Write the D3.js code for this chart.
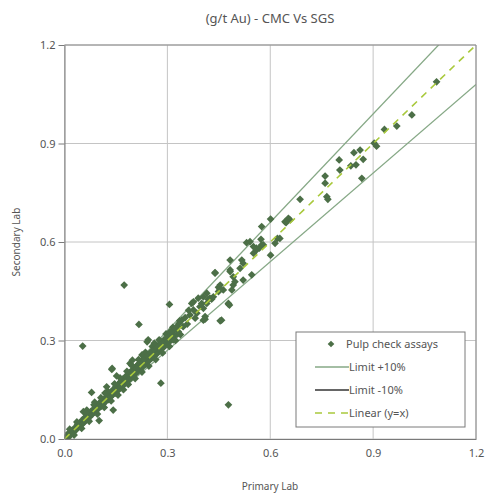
<!DOCTYPE html>
<html lang="en">
<head>
    <meta charset="UTF-8">
    <title>CMC Vs SGS</title>
    <script src="https://cdn.jsdelivr.net/npm/d3@7/dist/d3.min.js"></script>
    <style>
        body { margin: 0; background: #fff; }
        text { font-family: "Noto Sans", "DejaVu Sans", sans-serif; fill: #555; }
        .grid line { stroke: #c4c4c4; }
        .axis path, .axis line { stroke: #7a7a7a; }
    </style>
</head>
<body>
    <svg width=485 height=493></svg>
    <script>
        var title = '(g/t Au) - CMC Vs SGS',
            xLabel = 'Primary Lab',
            yLabel = 'Secondary Lab',
            ticks = [0, 0.3, 0.6, 0.9, 1.2],
            limits = [1.1, 0.9],
            legendItems = ['Pulp check assays', 'Limit +10%', 'Limit -10%', 'Linear (y=x)'];

        // primary, secondary (g/t Au)
        var bandPts = [
            [0.005,0.008],[0.010,0.004],[0.012,0.018],[0.018,0.012],[0.022,0.026],[0.025,0.020],
            [0.030,0.034],[0.034,0.028],[0.038,0.045],[0.040,0.036],[0.045,0.050],[0.048,0.042],
            [0.052,0.058],[0.055,0.048],[0.058,0.064],[0.060,0.055],[0.065,0.070],[0.068,0.060],
            [0.070,0.078],[0.074,0.068],[0.078,0.085],[0.080,0.074],[0.084,0.090],[0.088,0.082],
            [0.090,0.098],[0.094,0.088],[0.098,0.105],[0.100,0.094],[0.104,0.112],[0.108,0.100],
            [0.110,0.118],[0.114,0.108],[0.118,0.124],[0.120,0.114],[0.124,0.130],[0.128,0.120],
            [0.130,0.140],[0.134,0.128],[0.138,0.146],[0.140,0.134],[0.144,0.152],[0.148,0.140],
            [0.150,0.160],[0.154,0.148],[0.158,0.168],[0.160,0.152],[0.164,0.175],[0.168,0.160],
            [0.170,0.182],[0.174,0.168],[0.178,0.190],[0.180,0.174],[0.184,0.196],[0.188,0.180],
            [0.190,0.202],[0.194,0.186],[0.198,0.210],[0.200,0.192],[0.204,0.216],[0.208,0.200],
            [0.210,0.222],[0.214,0.206],[0.218,0.230],[0.220,0.212],[0.224,0.236],[0.228,0.220],
            [0.230,0.244],[0.234,0.226],[0.238,0.250],[0.240,0.232],[0.244,0.256],[0.248,0.240],
            [0.250,0.262],[0.254,0.246],[0.258,0.268],[0.260,0.252],[0.264,0.274],[0.268,0.258],
            [0.270,0.282],[0.274,0.266],[0.278,0.290],[0.280,0.270],[0.284,0.296],[0.288,0.278],
            [0.290,0.302],[0.294,0.286],[0.298,0.308],[0.300,0.292],[0.304,0.316],[0.308,0.298],
            [0.310,0.322],[0.314,0.306],[0.318,0.330],[0.320,0.312],[0.326,0.338],[0.330,0.320],
            [0.191,0.230],[0.123,0.159],[0.167,0.180],[0.211,0.215],[0.065,0.088],[0.055,0.083],
            [0.101,0.056],[0.142,0.088],[0.079,0.142],[0.138,0.212],[0.139,0.215],
            [0.015,0.030],[0.028,0.012],[0.036,0.052],[0.050,0.032],[0.062,0.080],[0.072,0.054],
            [0.086,0.104],[0.096,0.076],[0.106,0.126],[0.116,0.096],[0.126,0.146],[0.136,0.116],
            [0.146,0.168],[0.156,0.134],[0.162,0.186],[0.172,0.150],[0.182,0.206],[0.186,0.166],
            [0.196,0.224],[0.206,0.184],[0.216,0.242],[0.226,0.204],[0.236,0.264],[0.246,0.222],
            [0.256,0.282],[0.266,0.242],[0.276,0.302],[0.286,0.262],[0.296,0.320],[0.306,0.282],
            [0.316,0.340],[0.324,0.300],[0.334,0.352],[0.338,0.318],[0.152,0.192],[0.198,0.240],
            [0.226,0.256],[0.262,0.292],[0.118,0.140],[0.088,0.112]
        ];
        var midPts = [
            [0.259,0.271],[0.249,0.261],[0.240,0.251],[0.230,0.241],[0.220,0.231],[0.244,0.302],
            [0.241,0.296],[0.342,0.362],[0.346,0.342],[0.327,0.342],[0.317,0.332],[0.332,0.327],
            [0.308,0.327],[0.303,0.312],[0.317,0.302],[0.298,0.296],[0.288,0.291],[0.279,0.286],
            [0.269,0.279],[0.371,0.413],[0.376,0.393],[0.386,0.383],[0.366,0.378],[0.381,0.368],
            [0.390,0.429],[0.400,0.413],[0.395,0.403],[0.405,0.398],[0.410,0.373],[0.405,0.362],
            [0.415,0.444],[0.419,0.426],[0.429,0.426],[0.439,0.505],[0.454,0.469],[0.463,0.454],
            [0.449,0.449],[0.405,0.433],[0.424,0.429],[0.434,0.433],[0.415,0.413],[0.478,0.413],
            [0.449,0.462],[0.453,0.454],[0.488,0.454],[0.492,0.469],[0.521,0.484],[0.439,0.507],
            [0.483,0.510],[0.492,0.494],[0.497,0.479],[0.546,0.500],[0.483,0.545],[0.517,0.545],
            [0.521,0.535],[0.512,0.520],[0.483,0.515],[0.551,0.566],[0.560,0.576],[0.531,0.598],
            [0.541,0.601],[0.573,0.608],[0.575,0.591],[0.568,0.581],[0.621,0.611],[0.614,0.596],
            [0.601,0.560],[0.551,0.586],[0.560,0.581],[0.580,0.591],[0.628,0.611],[0.601,0.670],
            [0.575,0.647],[0.643,0.662],[0.658,0.667],[0.653,0.672],[0.646,0.659],[0.410,0.365],
            [0.376,0.418],[0.458,0.362],[0.481,0.408],
            [0.352,0.370],[0.358,0.350],[0.362,0.392],[0.336,0.360]
        ];
        var highPts = [
            [1.085,1.088],[1.013,0.987],[0.969,0.953],[0.933,0.943],[0.910,0.892],[0.903,0.901],
            [0.862,0.880],[0.844,0.872],[0.871,0.852],[0.850,0.835],[0.835,0.832],[0.801,0.850],
            [0.803,0.819],[0.867,0.794],[0.760,0.801],[0.760,0.779],[0.765,0.738],[0.768,0.730],
            [0.687,0.730]
        ];
        var outliers = [
            [0.053,0.283],[0.174,0.469],[0.217,0.349],[0.306,0.410],[0.281,0.170],[0.478,0.104],
            [0.454,0.360],[0.478,0.411]
        ];

        var svg = d3.select('svg'),
            margin = {top: 45, right: 9, bottom: 54, left: 64.5},
            chartWidth = 485 - margin.left - margin.right,
            chartHeight = 493 - margin.top - margin.bottom,
            xScale = d3.scaleLinear().domain([0, 1.2]).range([0, chartWidth]),
            yScale = d3.scaleLinear().domain([0, 1.2]).range([chartHeight, 0]),
            chartG = svg.append('g')
                        .attr('transform', 'translate(' + [margin.left, margin.top] + ')');

        var markColor = '#4c6f47',
            limitColor = '#86a886',
            lineColor = '#a9c93c';

        // grid
        chartG.append('g').classed('grid', true)
            .selectAll('line.v').data(ticks).enter().append('line')
            .attr('x1', xScale).attr('x2', xScale).attr('y1', 0).attr('y2', chartHeight);
        chartG.select('.grid')
            .selectAll('line.h').data(ticks).enter().append('line')
            .attr('y1', yScale).attr('y2', yScale).attr('x1', 0).attr('x2', chartWidth);

        chartG.append('clipPath').attr('id', 'plotclip')
            .append('rect').attr('width', chartWidth).attr('height', chartHeight);

        var plotG = chartG.append('g').attr('clip-path', 'url(#plotclip)');

        // limit lines
        limits.forEach(function(m) {
            plotG.append('line')
                .attr('x1', xScale(0)).attr('y1', yScale(0))
                .attr('x2', xScale(1.2)).attr('y2', yScale(1.2 * m))
                .attr('stroke', limitColor).attr('stroke-width', 1.3);
        });

        var allPts = bandPts.concat(midPts, highPts, outliers);
        var diamond = d3.symbol().type(d3.symbolSquare).size(30);

        plotG.selectAll('path.pt').data(allPts).enter().append('path')
            .classed('pt', true)
            .attr('d', diamond)
            .attr('transform', function(d) {
                return 'translate(' + [xScale(d[0]), yScale(d[1])] + ') rotate(45)';
            })
            .attr('fill', markColor);

        // y = x
        plotG.append('line')
            .attr('x1', xScale(0)).attr('y1', yScale(0))
            .attr('x2', xScale(1.2)).attr('y2', yScale(1.2))
            .attr('stroke', lineColor).attr('stroke-width', 1.6)
            .attr('stroke-dasharray', '7,6');

        // border top/right
        chartG.append('path')
            .attr('d', 'M0,0H' + chartWidth + 'V' + chartHeight)
            .attr('fill', 'none').attr('stroke', '#8a8a8a');

        var yAxis = d3.axisLeft(yScale).tickValues(ticks).tickFormat(d3.format('.1f'))
                        .tickSize(6).tickSizeOuter(0),
            xAxis = d3.axisBottom(xScale).tickValues(ticks).tickFormat(d3.format('.1f'))
                        .tickSize(0).tickSizeOuter(0).tickPadding(10);

        chartG.append('g').classed('axis', true).call(yAxis)
            .selectAll('text').style('font-size', '11px').attr('fill', '#555');
        chartG.append('g').classed('axis', true)
            .attr('transform', 'translate(' + [0, chartHeight] + ')')
            .call(xAxis)
            .selectAll('text').style('font-size', '11px').attr('fill', '#555');
        chartG.selectAll('.axis .domain').attr('stroke', '#7a7a7a');

        svg.append('text').attr('x', 270).attr('y', 23).attr('text-anchor', 'middle')
            .style('font-size', '13px').text(title);
        svg.append('text').attr('x', 270).attr('y', 490).attr('text-anchor', 'middle')
            .style('font-size', '10px').text(xLabel);
        svg.append('text').attr('transform', 'translate(20,242) rotate(-90)')
            .attr('text-anchor', 'middle').style('font-size', '10px').text(yLabel);

        // legend
        var legG = svg.append('g').attr('transform', 'translate(296,332)');
        legG.append('rect').attr('width', 169).attr('height', 95)
            .attr('fill', '#fff').attr('stroke', '#7a7a7a');
        legendItems.forEach(function(name, i) {
            var y = 12 + i * 23;
            if (i === 0) {
                legG.append('path').attr('d', d3.symbol().type(d3.symbolSquare).size(22))
                    .attr('transform', 'translate(35,' + y + ') rotate(45)')
                    .attr('fill', markColor);
            } else {
                legG.append('line').attr('x1', 19).attr('x2', 53).attr('y1', y).attr('y2', y)
                    .attr('stroke', i === 1 ? limitColor : (i === 2 ? '#333' : lineColor))
                    .attr('stroke-width', i === 3 ? 1.6 : 1.3)
                    .attr('stroke-dasharray', i === 3 ? '7,6' : null);
            }
            legG.append('text').attr('x', i === 0 ? 50 : 53).attr('y', y + 4)
                .style('font-size', '11px').text(name);
        });
    </script>
</body>
</html>
